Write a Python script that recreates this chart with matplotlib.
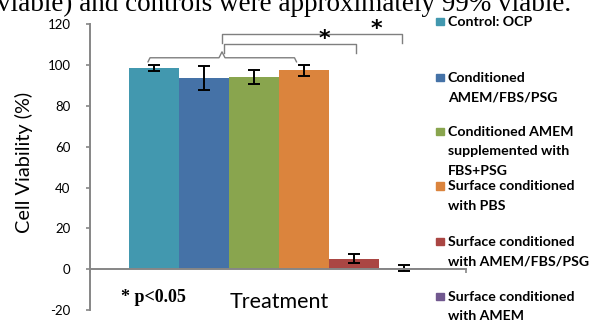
import matplotlib
matplotlib.use("Agg")
import matplotlib.pyplot as plt
import numpy as np

# ---- data ----
categories = ["Control: OCP",
              "Conditioned\nAMEM/FBS/PSG",
              "Conditioned AMEM\nsupplemented with\nFBS+PSG",
              "Surface conditioned\nwith PBS",
              "Surface conditioned\nwith AMEM/FBS/PSG",
              "Surface conditioned\nwith AMEM"]
values = [98.7, 93.6, 94.1, 97.5, 5.2, 0.6]
errors = [1.6, 5.9, 3.3, 2.6, 2.0, 1.6]
colors = ["#4298AF", "#4572A7", "#89A54E", "#DB843D", "#AA4643", "#71588F"]
yticks = [-20, 0, 20, 40, 60, 80, 100, 120]

# significance brackets: (left bar pos, right bar pos, height, drop)
brackets = [(1.40, 4.03, 110.2, 4.5), (1.35, 4.97, 115.1, 4.3)]
brace = (-0.12, 2.85, 103.6, 2.0, 1.36, 2.9)  # x0, x1, y, drop, xpeak, rise
stars = [(3.40, 112.6), (4.45, 117.6)]

W, H = 592, 323
fig = plt.figure(figsize=(W / 100, H / 100), dpi=100)
ax = fig.add_axes([90 / W, 1 - 310 / H, 376 / W, (310 - 24.3) / H])

x = np.arange(len(values))
ax.bar(x, values, width=1.0, color=colors, yerr=errors, capsize=4.3,
       error_kw=dict(ecolor="black", elinewidth=1.4, capthick=1.4), zorder=2)

ax.set_xlim(-1.28, 6.24)
ax.set_ylim(-20, 120)
ax.set_yticks(yticks)
ax.set_yticklabels([str(t) for t in yticks], family="Lato", fontsize=9.5)
ax.set_xticks([-1.28, 6.24])
ax.set_xticklabels(["", ""])

gray = "#868686"
for s in ["top", "right"]:
    ax.spines[s].set_visible(False)
ax.spines["bottom"].set_position(("data", 0))
ax.spines["left"].set_color(gray)
ax.spines["bottom"].set_color(gray)
ax.spines["left"].set_linewidth(1.4)
ax.spines["bottom"].set_linewidth(1.4)
ax.tick_params(axis="both", direction="out", length=3, width=1.2, color=gray)
ax.tick_params(axis="y", pad=11)

fig.text(24 / W, 1 - 162 / H, "Cell Viability (%)", rotation=90,
         ha="center", va="center", family="Lato", fontsize=14.3)

# brackets
bc = "#7f7f7f"
for x0, x1, y, d in brackets:
    ax.plot([x0, x0, x1, x1], [y - d, y, y, y - d], color=bc, lw=1.0,
            clip_on=False, zorder=3)
x0, x1, y, d, xp, r = brace
ax.plot([x0, x0 + 0.04, xp - 0.06, xp, xp + 0.06, x1 - 0.04, x1],
        [y - d, y, y, y + r, y, y, y - d], color=bc, lw=1.0,
        clip_on=False, zorder=3)
for sx, sy in stars:
    ax.text(sx, sy, "*", ha="center", va="center", fontsize=16,
            family="DejaVu Sans", fontweight="bold")

# texts
fig.text(279 / W, 1 - 302 / H, "Treatment", ha="center", va="center",
         family="Lato", fontsize=15.5)
fig.text(121 / W, 1 - 298 / H, "* p<0.05", ha="left", va="center",
         family="Liberation Serif", fontweight="bold", fontsize=13)
fig.text(-3 / W, 1 - 11 / H, "viable) and controls were approximately 99% viable.",
         ha="left", va="baseline", family="Liberation Serif", fontsize=19.5)

# legend (manual)
ys = [21.5, 77.5, 131.5, 186, 241.5, 296.5]
line_px = 19.5
for lab, c, yy in zip(categories, colors, ys):
    fig.patches.append(plt.Rectangle((436 / W, 1 - (yy + 3.8) / H), 7.7 / W, 7.7 / H,
                                     transform=fig.transFigure, color=c))
    for i, line in enumerate(lab.split("\n")):
        fig.text(448 / W, 1 - (yy + 4.3 + i * line_px) / H, line, ha="left",
                 va="baseline", family="Lato", fontweight="bold", fontsize=10.2)

fig.savefig("out.png", dpi=100)
